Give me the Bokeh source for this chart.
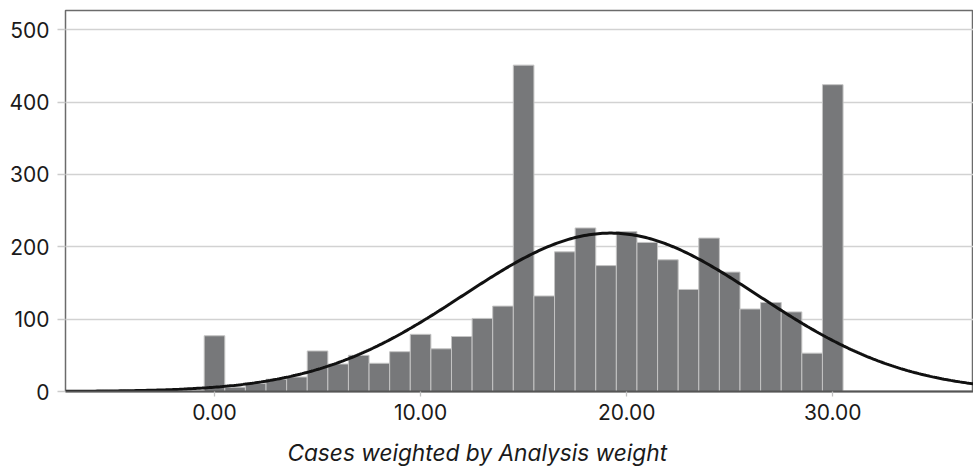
import numpy as np
from bokeh.plotting import figure
from bokeh.models import Range1d, FixedTicker, NumeralTickFormatter, LinearAxis
from bokeh.embed import file_html
from bokeh.resources import INLINE

# ---- data ----
bin_centers = list(range(0, 31))
counts = [77, 6, 11, 17, 20, 56, 38, 50, 39, 55, 79, 59, 76, 101, 118, 451,
          132, 193, 226, 174, 221, 206, 182, 141, 212, 165, 114, 123, 110, 53, 424]
x_ticks = [0, 10, 20, 30]
y_ticks = [0, 100, 200, 300, 400, 500]
x_title = "Cases weighted by Analysis weight"
x_title_pos = 12.75          # x value under which the axis title is centred
x_limits = (-7.23, 36.83)
y_limits = (0, 526.5)

# fitted normal curve derived from the histogram (as the source chart does)
c = np.array(counts, dtype=float)
xc = np.array(bin_centers, dtype=float)
n_total = c.sum()
mean = (c * xc).sum() / n_total
sd = np.sqrt((c * (xc - mean) ** 2).sum() / (n_total - 1))
bin_w = 1.0
curve_x = np.linspace(x_limits[0], x_limits[1], 400)
curve_y = n_total * bin_w / (sd * np.sqrt(2 * np.pi)) * np.exp(-0.5 * ((curve_x - mean) / sd) ** 2)

FONT = "Inter"

p = figure(width=973, height=468, output_backend="svg", toolbar_location=None,
           x_range=Range1d(*x_limits), y_range=Range1d(*y_limits),
           min_border_left=65, min_border_top=10, min_border_right=0, min_border_bottom=76)

p.background_fill_color = "white"
p.border_fill_color = "white"
p.outline_line_color = "#6b6b6b"
p.outline_line_width = 1.5

p.xgrid.grid_line_color = None
p.ygrid.grid_line_color = "#d2d2d2"
p.ygrid.grid_line_width = 1.3
p.ygrid.ticker = FixedTicker(ticks=y_ticks)

p.vbar(x=bin_centers, top=counts, width=bin_w, bottom=0,
       fill_color="#77787a", line_color="#c4c4c4", line_width=1)
p.line(curve_x, curve_y, line_color="#111111", line_width=3)

# y axis
ya = p.yaxis[0]
ya.ticker = FixedTicker(ticks=y_ticks)
ya.axis_line_color = None
ya.major_tick_out = 8
ya.major_tick_in = 0
ya.major_tick_line_color = "#cccccc"
ya.major_tick_line_width = 1.3
ya.minor_tick_line_color = None
ya.major_label_text_font = FONT
ya.major_label_text_font_size = "21px"
ya.major_label_text_color = "#1a1a1a"
ya.major_label_standoff = 8

# x axis
xa = p.xaxis[0]
xa.ticker = FixedTicker(ticks=x_ticks)
xa.formatter = NumeralTickFormatter(format="0.00")
xa.axis_line_color = "#555555"
xa.axis_line_width = 2
xa.major_tick_out = 5
xa.major_tick_in = 0
xa.major_tick_line_color = "#c0c0c0"
xa.major_tick_line_width = 1.3
xa.minor_tick_line_color = None
xa.major_label_text_font = FONT
xa.major_label_text_font_size = "21px"
xa.major_label_text_color = "#1a1a1a"
xa.major_label_standoff = 7

# axis title: a second, bare axis below whose single label carries the title
ta = LinearAxis(ticker=FixedTicker(ticks=[x_title_pos]),
                major_label_overrides={x_title_pos: x_title})
ta.axis_line_color = None
ta.major_tick_line_color = None
ta.minor_tick_line_color = None
ta.major_tick_out = 0
ta.major_tick_in = 0
ta.major_label_standoff = 16
ta.major_label_text_font = FONT
ta.major_label_text_font_style = "italic"
ta.major_label_text_font_size = "22.7px"
ta.major_label_text_line_height = 0.9
ta.major_label_text_color = "#1a1a1a"
p.add_layout(ta, "below")

open("out.html", "w").write(file_html(p, INLINE))
